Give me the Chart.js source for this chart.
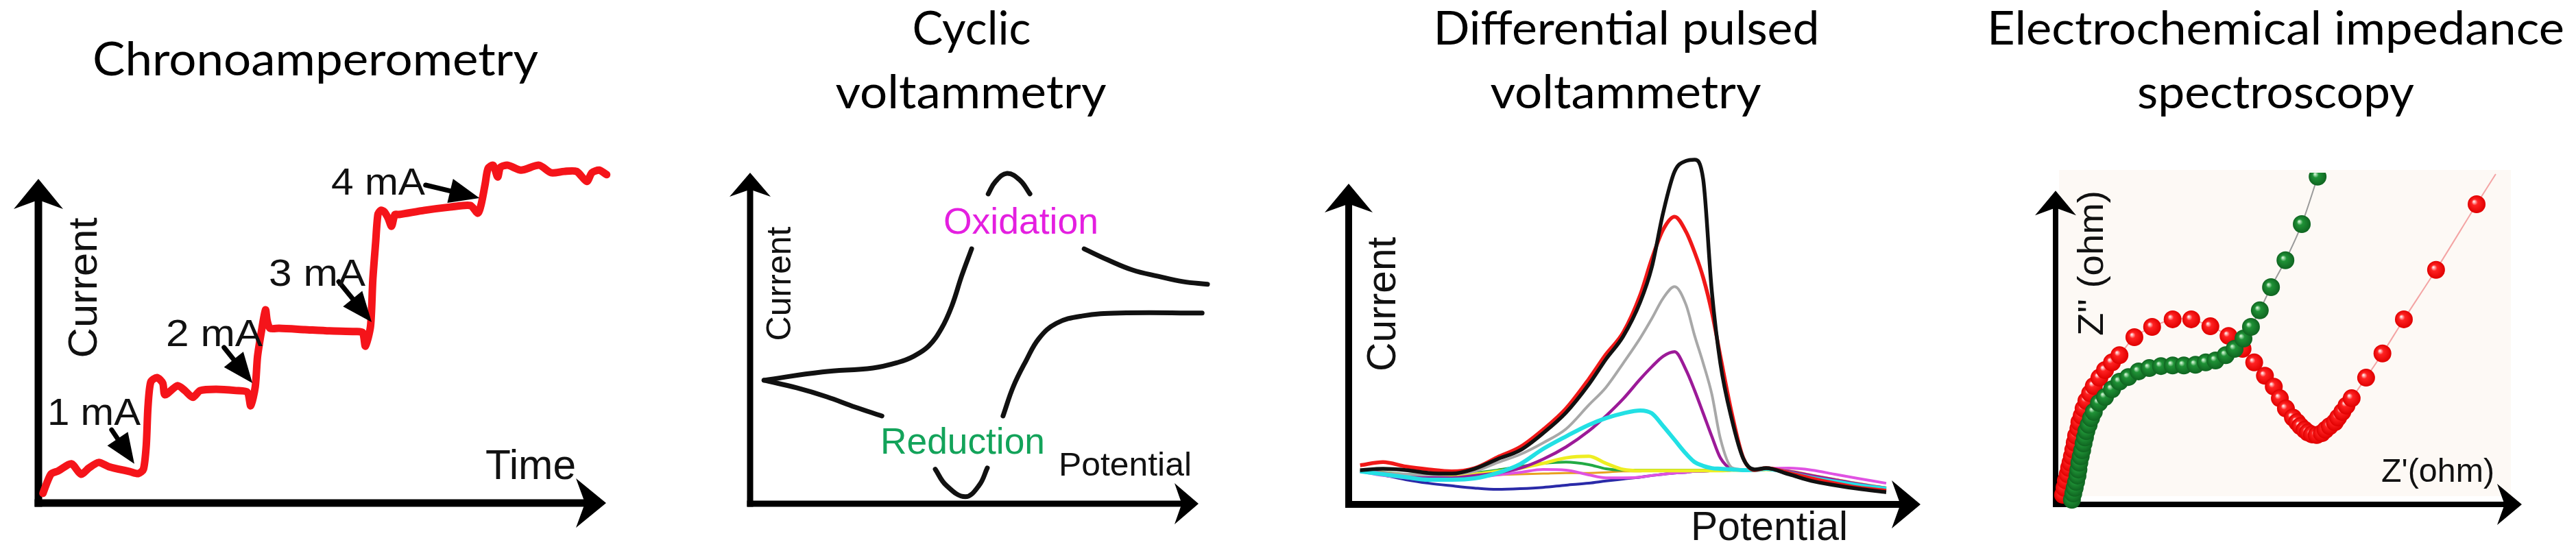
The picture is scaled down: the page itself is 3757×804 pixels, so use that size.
<!DOCTYPE html>
<html><head><meta charset="utf-8">
<script src="https://cdn.jsdelivr.net/npm/chart.js@4.4.1/dist/chart.umd.min.js"></script>
<style>
html,body{margin:0;padding:0;background:#fff;width:3757px;height:804px;overflow:hidden}
canvas{position:absolute;left:0;top:0}
</style></head><body>
<canvas id="c1" width="3757" height="804"></canvas>
<canvas id="c2" width="3757" height="804"></canvas>
<canvas id="c3" width="3757" height="804"></canvas>
<canvas id="c4" width="3757" height="804"></canvas>
<script>
// ---------------- DATA ----------------
// Panel 1: Chronoamperometry (time, current in arbitrary units)
const caTime = [0.8,2.2,3.5,5.8,7.5,8.9,10.6,12.4,14.3,16.1,17.6,18.5,19.0,19.3,19.8,20.9,21.9,22.3,24.5,25.8,27.2,28.5,31.3,34.8,36.8,37.4,38.2,38.6,39.3,40.0,40.3,40.8,42.4,46.9,51.3,55.8,57.1,57.6,58.5,58.9,59.4,59.8,60.3,60.9,61.6,62.2,62.8,63.5,68.0,72.5,76.1,77.4,78.0,78.7,79.2,80.1,80.9,81.4,82.7,85.0,88.2,90.3,92.6,94.8,96.6,97.5,98.8,100.1,101.6];
const caCurrent = [3.0,8.9,9.9,12.1,8.9,10.8,12.5,11.2,10.4,9.7,9.1,10.4,17.8,29.6,37.4,38.7,37.0,33.4,36.2,34.7,32.6,34.7,35.1,34.7,34.2,30.0,35.9,45.2,53.1,59.6,56.2,53.9,53.9,53.5,53.1,52.9,52.6,48.4,54.5,68.7,80.3,89.0,90.3,89.9,87.9,85.4,89.0,89.0,90.3,91.3,91.8,89.4,92.2,98.5,103.2,104.2,100.6,103.6,104.2,102.7,104.2,101.9,102.3,102.3,99.2,101.9,102.7,101.3,100.4];
const caStepLabels = ['1 mA','2 mA','3 mA','4 mA'];

// Panel 2: Cyclic voltammetry segments [potential, current]
const cvAnodicRise = [[3.1,37.3],[16.1,39.8],[27.4,41.0],[33.0,42.7],[36.4,44.5],[39.8,47.6],[42.7,53.0],[45.0,59.8],[47.2,68.9],[49.4,77.0]];
const cvAnodicPeak = [[53.1,93.6],[54.7,97.3],[57.3,99.8],[60.2,97.7],[62.4,93.6]];
const cvAnodicTail = [[74.5,77.0],[79.7,73.7],[85.3,70.6],[91.0,68.7],[96.5,67.1],[102.0,66.3]];
const cvCathodicFall = [[100.8,57.6],[82.4,57.6],[74.0,56.7],[68.3,54.5],[64.4,49.9],[61.5,43.1],[58.7,35.4],[56.4,26.5]];
const cvCathodicPeak = [[41.3,10.4],[43.7,5.6],[48.0,2.1],[51.1,5.6],[52.9,10.8]];
const cvCathodicTail = [[29.4,26.5],[23.4,29.2],[17.1,32.3],[10.4,35.0],[3.1,37.3]];

// Panel 3: Differential pulsed voltammetry
const dpvPotential = [2,6,10,14,18,22,26,30,34,38,42,45,48,51,53,55,57,59,60.5,62,63.5,65,67,69,71,73,77,81,85,89,94];
const dpvBlack  = [10.7,11.1,10.7,9.8,9.6,11.1,14.1,16.9,22.2,28.6,37.4,45.3,52.4,63.2,73.9,91.0,103.8,107.1,107.5,101.3,66.5,44.0,26.5,14.3,10.9,11.3,9.4,7.3,6.0,4.9,3.8];
const dpvRed    = [12.2,13.2,11.8,10.9,10.3,11.3,14.7,17.9,23.3,29.9,39.1,46.8,53.6,65.4,76.5,85.7,89.7,85.0,78.6,70.7,60.0,46.2,28.4,14.5,10.7,11.3,9.8,8.1,6.6,5.3,4.3];
const dpvGray   = [10.3,9.8,9.4,9.2,9.4,10.3,13.0,15.6,19.2,23.5,31.0,36.5,44.0,51.9,57.9,64.3,67.9,62.2,52.6,44.0,34.4,20.5,11.5,10.9,10.7,11.1,9.8,8.3,7.1,6.0,4.9];
const dpvPurple = [10.3,9.8,9.0,8.3,8.3,9.0,9.8,11.3,14.1,17.9,22.9,27.6,32.9,39.1,42.9,46.2,47.6,41.9,35.5,28.4,21.2,14.5,11.1,10.7,10.7,11.1,10.3,9.0,7.7,6.4,5.1];
const dpvCyan   = [10.3,9.4,8.5,7.7,7.7,8.1,9.8,12.6,17.3,21.2,24.8,26.9,28.4,29.3,28.4,24.4,20.1,15.8,13.2,12.0,11.3,11.1,10.9,10.7,10.7,11.1,9.8,8.3,7.1,6.0,4.9];
const dpvYellow = [10.5,9.8,9.2,8.8,9.0,9.4,10.3,11.3,12.8,14.5,15.0,12.8,10.9,10.5,10.5,10.5,10.5,10.5,10.5,10.5,10.5,10.5,10.7,10.7,10.7,10.9,10.3,9.0,7.7,6.4,5.1];
const dpvMagenta= [10.3,9.0,8.3,7.7,7.7,8.3,9.2,10.0,10.9,10.7,9.2,8.3,8.3,8.5,9.0,9.4,9.8,10.0,10.3,10.3,10.5,10.5,10.7,10.7,10.7,11.1,11.3,10.7,9.4,8.1,6.6];
const dpvBlue   = [10.7,9.2,7.7,6.6,5.8,5.1,4.7,4.9,5.3,6.0,6.6,7.3,7.9,8.5,9.0,9.4,9.8,10.0,10.3,10.3,10.5,10.5,10.7,10.7,10.7,10.9,9.8,8.3,7.1,5.8,4.3];
const dpvGreen  = [10.5,10.0,9.4,9.2,9.4,9.8,10.7,11.8,12.8,13.2,12.4,11.1,10.7,10.7,10.7,10.7,10.7,10.7,10.7,10.7,10.7,10.7,10.7,10.7,10.7,10.9,10.0,8.8,7.5,6.2,4.7];
const dpvOrange = [10.3,9.8,9.4,9.0,8.8,9.0,9.2,9.4,9.6,9.8,9.8,10.0,10.3,10.3,10.5,10.5,10.5,10.7,10.7,10.7,10.7,10.7,10.7,10.7,10.7,10.9,10.0,8.8,7.5,6.2,4.7];

// Panel 4: Electrochemical impedance (Nyquist) Z' and Z''
const eisRedRe = [1.6,1.9,2.2,2.6,2.9,3.2,3.5,3.8,4.1,4.4,4.9,5.1,5.6,6.0,6.6,7.4,8.2,9.4,10.6,12.1,13.7,16.9,20.7,25.1,29.1,33.2,37.1,40.1,42.6,44.9,46.8,48.1,49.4,50.9,51.8,52.5,53.4,54.1,55.0,56.0,57.1,57.9,58.8,59.9,60.6,61.5,62.4,63.5,66.6,70.1,74.7,81.6,90.3,94.4];
const eisRedIm = [2.9,5.0,7.2,9.1,11.0,12.6,14.5,16.5,18.6,20.7,22.9,24.8,26.7,28.9,31.2,33.5,35.7,38.2,40.5,42.8,45.0,50.4,53.5,55.8,55.8,53.7,50.8,46.9,42.8,38.8,35.5,32.0,28.9,26.2,24.8,23.6,22.5,21.7,21.1,20.9,21.5,22.5,23.6,24.8,26.2,27.9,29.8,32.0,38.2,45.5,55.8,70.7,90.5,99.6];
const eisGreenRe = [3.5,3.8,4.1,4.4,4.7,4.9,5.1,5.4,5.7,6.0,6.3,6.6,7.1,7.6,8.2,9.3,10.6,12.1,13.7,15.6,17.8,20.1,22.6,25.1,27.5,30.0,32.2,34.3,36.5,38.4,40.3,41.9,43.8,46.2,49.3,52.8,56.2,58.4];
const eisGreenIm = [1.4,3.3,5.0,6.8,8.7,10.5,12.6,14.5,16.3,18.4,20.2,22.1,24.0,26.0,27.9,30.6,32.4,34.7,37.0,38.4,40.1,41.1,41.7,41.9,41.9,42.1,42.8,43.4,45.0,46.9,50.0,53.5,58.5,65.5,73.6,84.5,98.8,108.7];

// ---------------- HELPERS ----------------
const SANS = "'Liberation Sans', Arial, sans-serif";
const TITLE = "Lato, 'Open Sans', sans-serif";
const xy = (xs, ys) => xs.map((x, i) => ({x, y: ys[i]}));
const pairs = arr => arr.map(p => ({x: p[0], y: p[1]}));

function drawText(c, t) {
  c.save();
  c.font = `${t.size}px ${t.family || SANS}`;
  c.fillStyle = t.color || '#111';
  c.textBaseline = 'alphabetic';
  c.translate(t.x, t.y);
  if (t.rot) c.rotate(t.rot * Math.PI / 180);
  const w = c.measureText(t.s).width;
  if (t.w) c.scale(t.w / w, 1);
  const dx = t.align === 'center' ? -w / 2 : (t.align === 'right' ? -w : 0);
  c.fillText(t.s, dx, 0);
  c.restore();
}
function head(c, tx, ty, dx, dy, len, half, notch) {
  const bx = tx - dx * len, by = ty - dy * len, px = -dy, py = dx;
  c.beginPath();
  c.moveTo(tx, ty);
  c.lineTo(bx + px * half, by + py * half);
  c.lineTo(tx - dx * len * (1 - notch), ty - dy * len * (1 - notch));
  c.lineTo(bx - px * half, by - py * half);
  c.closePath();
  c.fill();
}
function makeDecor(cfg) {
  return {
    id: 'decor',
    beforeDraw(chart) {
      if (!cfg.bg) return;
      const c = chart.ctx; c.save(); c.fillStyle = cfg.bg.color;
      c.fillRect(cfg.bg.x, cfg.bg.y, cfg.bg.w, cfg.bg.h); c.restore();
    },
    beforeDatasetsDraw(chart) {
      const c = chart.ctx, sx = chart.scales.x, sy = chart.scales.y, a = cfg.axis;
      const x0 = sx.getPixelForValue(0), y0 = sy.getPixelForValue(0);
      const xt = sx.getPixelForValue(a.xEnd), yt = sy.getPixelForValue(a.yEnd);
      c.save(); c.strokeStyle = '#000'; c.fillStyle = '#000'; c.lineWidth = a.lw; c.lineCap = 'butt';
      c.beginPath(); c.moveTo(x0, y0 + a.lw / 2); c.lineTo(x0, yt + a.len * 0.6); c.stroke();
      c.beginPath(); c.moveTo(x0 - a.lw / 2, y0); c.lineTo(xt - a.len * 0.6, y0); c.stroke();
      head(c, x0, yt, 0, -1, a.len, a.half, 0.3);
      head(c, xt, y0, 1, 0, a.len, a.half, 0.3);
      c.restore();
    },
    afterDatasetsDraw(chart) {
      const c = chart.ctx, sx = chart.scales.x, sy = chart.scales.y;
      (cfg.pointers || []).forEach(p => {
        const x1 = sx.getPixelForValue(p.from[0]), y1 = sy.getPixelForValue(p.from[1]);
        const x2 = sx.getPixelForValue(p.to[0]), y2 = sy.getPixelForValue(p.to[1]);
        const L = Math.hypot(x2 - x1, y2 - y1), ux = (x2 - x1) / L, uy = (y2 - y1) / L;
        c.save(); c.strokeStyle = '#000'; c.fillStyle = '#000'; c.lineWidth = 7; c.lineCap = 'round';
        c.beginPath(); c.moveTo(x1, y1); c.lineTo(x2 - ux * 30, y2 - uy * 30); c.stroke();
        head(c, x2, y2, ux, uy, 44, 18, 0);
        c.restore();
      });
      (cfg.texts || []).forEach(t => drawText(c, t));
    }
  };
}
function baseOptions(pad) {
  return {
    responsive: false, animation: false, devicePixelRatio: 1, events: [],
    layout: { padding: pad },
    plugins: { legend: { display: false }, title: { display: false }, tooltip: { enabled: false } },
    scales: {
      x: { type: 'linear', display: false, min: 0, max: 100 },
      y: { type: 'linear', display: false, min: 0, max: 100 }
    }
  };
}

// ---------------- PANEL 1 ----------------
new Chart(document.getElementById('c1'), {
  type: 'scatter',
  data: { datasets: [{
    data: xy(caTime, caCurrent), showLine: true, borderColor: '#f5141a', borderWidth: 11,
    tension: 0.25, pointRadius: 0, borderJoinStyle: 'round', borderCapStyle: 'round', clip: false
  }]},
  options: baseOptions({ left: 56, right: 2873, top: 261, bottom: 70 }),
  plugins: [makeDecor({
    axis: { lw: 11, len: 44, half: 36, xEnd: 100, yEnd: 100 },
    pointers: [
      { from: [12.9, 22.6], to: [16.9, 12.1] },
      { from: [32.7, 48.0], to: [37.7, 37.0] },
      { from: [52.9, 68.3], to: [58.7, 55.8] },
      { from: [68.2, 98.1], to: [77.7, 94.1] }
    ],
    texts: [
      { s: 'Chronoamperometry', x: 460, y: 110, size: 68, w: 650, align: 'center', family: TITLE, color: '#000' },
      { s: 'Current', x: 141, y: 420, size: 60, w: 205, rot: -90, align: 'center' },
      { s: 'Time', x: 708, y: 699, size: 62, w: 132 },
      { s: caStepLabels[0], x: 69, y: 620, size: 55, w: 136 },
      { s: caStepLabels[1], x: 242, y: 505, size: 55, w: 141 },
      { s: caStepLabels[2], x: 392, y: 417, size: 55, w: 141 },
      { s: caStepLabels[3], x: 483, y: 284, size: 55, w: 137 }
    ]
  })]
});

// ---------------- PANEL 2 ----------------
const cvStyle = { showLine: true, borderColor: '#111', borderWidth: 7, tension: 0.4, pointRadius: 0, borderCapStyle: 'round', clip: false };
new Chart(document.getElementById('c2'), {
  type: 'scatter',
  data: { datasets: [cvAnodicRise, cvAnodicPeak, cvAnodicTail, cvCathodicFall, cvCathodicPeak, cvCathodicTail]
    .map(seg => Object.assign({ data: pairs(seg) }, cvStyle)) },
  options: baseOptions({ left: 1094, right: 2009, top: 252, bottom: 69 }),
  plugins: [makeDecor({
    axis: { lw: 9, len: 35, half: 30, xEnd: 100, yEnd: 100 },
    texts: [
      { s: 'Cyclic', x: 1417, y: 65, size: 68, w: 173, align: 'center', family: TITLE, color: '#000' },
      { s: 'voltammetry', x: 1416, y: 158, size: 68, w: 395, align: 'center', family: TITLE, color: '#000' },
      { s: 'Current', x: 1153, y: 414, size: 50, w: 167, rot: -90, align: 'center' },
      { s: 'Potential', x: 1544, y: 694, size: 48, w: 194 },
      { s: 'Oxidation', x: 1376, y: 341, size: 53, w: 226, color: '#e41fe0' },
      { s: 'Reduction', x: 1284, y: 662, size: 54, w: 240, color: '#13a35a' }
    ]
  })]
});

// ---------------- PANEL 3 ----------------
const dpvSeries = [
  { y: dpvBlack, c: '#111111', w: 5.5 },
  { y: dpvRed, c: '#f01818', w: 5.5 },
  { y: dpvCyan, c: '#22e0e4', w: 6 },
  { y: dpvGray, c: '#a8a8a8', w: 4 },
  { y: dpvPurple, c: '#9c1a98', w: 4.5 },
  { y: dpvYellow, c: '#eeee22', w: 5 },
  { y: dpvMagenta, c: '#e052e2', w: 4 },
  { y: dpvBlue, c: '#2a2aa8', w: 4 },
  { y: dpvGreen, c: '#22aa44', w: 4 },
  { y: dpvOrange, c: '#e8a020', w: 3 }
];
new Chart(document.getElementById('c3'), {
  type: 'scatter',
  data: { datasets: dpvSeries.map(s => ({
    data: xy(dpvPotential, s.y), showLine: true, borderColor: s.c, borderWidth: s.w,
    cubicInterpolationMode: 'monotone', tension: 0.4, pointRadius: 0, clip: false
  })) },
  options: baseOptions({ left: 1967, right: 956, top: 268, bottom: 68 }),
  plugins: [makeDecor({
    axis: { lw: 10, len: 42, half: 35, xEnd: 100, yEnd: 100 },
    texts: [
      { s: 'Differential pulsed', x: 2372, y: 65, size: 68, w: 563, align: 'center', family: TITLE, color: '#000' },
      { s: 'voltammetry', x: 2371, y: 158, size: 68, w: 395, align: 'center', family: TITLE, color: '#000' },
      { s: 'Current', x: 2035, y: 444, size: 59, w: 196, rot: -90, align: 'center' },
      { s: 'Potential', x: 2466, y: 788, size: 59, w: 229 }
    ]
  })]
});

// ---------------- PANEL 4 ----------------
const BALL_R = 13;
function ball(pal) {
  return ctx => {
    const ch = ctx.chart, p = ctx.parsed;
    if (!p || !ch.scales || !ch.scales.x || !ch.scales.y) return pal[1];
    const x = ch.scales.x.getPixelForValue(p.x), y = ch.scales.y.getPixelForValue(p.y), r = BALL_R;
    if (!Number.isFinite(x) || !Number.isFinite(y)) return pal[1];
    const g = ch.ctx.createRadialGradient(x - r * 0.3, y - r * 0.3, r * 0.06, x, y, r);
    g.addColorStop(0, pal[0]); g.addColorStop(0.3, pal[1]); g.addColorStop(1, pal[2]);
    return g;
  };
}
const eisClip = { left: false, right: false, bottom: false, top: 0 };
new Chart(document.getElementById('c4'), {
  type: 'scatter',
  data: { datasets: [
    { data: xy(eisGreenRe, eisGreenIm), showLine: true, borderColor: '#9a9a9a', borderWidth: 2, tension: 0.3,
      pointRadius: c => c.dataIndex === eisGreenRe.length - 1 ? 0 : BALL_R, pointBorderWidth: 0,
      pointBackgroundColor: ball(['#c8f0cc', '#1f9236', '#0f6420']), clip: eisClip },
    { data: xy(eisRedRe, eisRedIm), showLine: true, borderColor: '#f4a4a4', borderWidth: 2, tension: 0.3,
      pointRadius: c => c.dataIndex === eisRedRe.length - 1 ? 0 : BALL_R, pointBorderWidth: 0,
      pointBackgroundColor: ball(['#ffe0e0', '#ff2222', '#e00000']), clip: eisClip }
  ]},
  options: baseOptions({ left: 2998, right: 79, top: 252, bottom: 68 }),
  plugins: [makeDecor({
    bg: { x: 3003, y: 248, w: 659, h: 476, color: '#fdf9f5' },
    axis: { lw: 8, len: 36, half: 30, xEnd: 100, yEnd: 94.6 },
    texts: [
      { s: 'Electrochemical impedance', x: 3319, y: 65, size: 68, w: 842, align: 'center', family: TITLE, color: '#000' },
      { s: 'spectroscopy', x: 3319, y: 158, size: 68, w: 404, align: 'center', family: TITLE, color: '#000' },
      { s: "Z'' (ohm)", x: 3067, y: 384, size: 52, w: 212, rot: -90, align: 'center' },
      { s: "Z'(ohm)", x: 3473, y: 703, size: 48, w: 165 }
    ]
  })]
});
</script>
</body></html>
